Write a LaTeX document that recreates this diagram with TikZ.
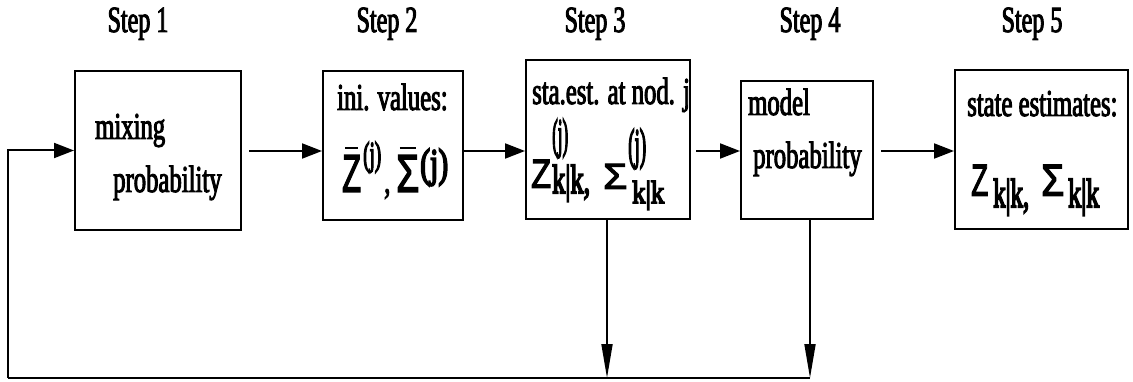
\documentclass[tikz,border=0pt]{standalone}
\usepackage{fontspec}
\usepackage{graphicx}
\setmainfont{Liberation Serif}[FakeStretch=0.65, FakeBold=2.5]
\newfontfamily\zf{Liberation Sans}[FakeBold=3]
\newfontfamily\pf{Liberation Serif}[FakeBold=5]
\usetikzlibrary{arrows.meta}
\newcommand\fitbox[3]{\resizebox*{#1}{#2}{#3}}
\newcommand\fitw[3]{\resizebox{#1}{#2}{#3}}
\newcommand\barred[1]{\leavevmode\vbox{\offinterlineskip\halign{\hfil##\hfil\cr\rule{4.2pt}{0.45pt}\cr\noalign{\kern1.1pt}#1\cr}}}
\tikzset{
  box/.style={draw, line width=2pt, inner sep=0pt},
  txt/.style={anchor=base west, inner sep=0pt, font=\fontsize{38}{40}\selectfont},
  ttl/.style={anchor=base, inner sep=0pt, font=\fontsize{37}{40}\selectfont},
  piece/.style={anchor=south west, inner sep=0pt},
  sub/.style={anchor=base west, inner sep=0pt},
  harr/.style={line width=2pt, -{Triangle[length=20pt,width=15pt]}},
  varr/.style={line width=1.8pt, -{Triangle[length=34pt,width=11pt]}},
  fline/.style={line width=2pt},
}
\begin{document}
\begin{tikzpicture}[x=1pt,y=-1pt]
\fill[white] (0,0) rectangle (1133,382);
\useasboundingbox (0,0) rectangle (1133,382);
% titles
\node[ttl] (t1) at (138,32) {Step 1};
\node[ttl] (t2) at (387,32) {Step 2};
\node[ttl] (t3) at (595,32) {Step 3};
\node[ttl] (t4) at (810,32) {Step 4};
\node[ttl] (t5) at (1032,32) {Step 5};
% boxes
\node[box, minimum width=166pt, minimum height=159pt] (b1) at (158,150.5) {};
\node[box, minimum width=140pt, minimum height=149pt] (b2) at (393,145.5) {};
\node[box, minimum width=164pt, minimum height=159pt] (b3) at (608,139.5) {};
\node[box, minimum width=132pt, minimum height=138pt] (b4) at (807,150) {};
\node[box, minimum width=173pt, minimum height=159pt] (b5) at (1041.5,149.5) {};
% box 1 text
\node[txt] (m1) at (95,139) {mixing};
\node[txt] (m2) at (113,192) {probability};
% box 2 text
\node[txt] (i1) at (337,110) {ini. values:};
\node[piece] (i2) at (342,192) {\fitbox{19pt}{45pt}{\barred{\zf Z}}};
\node[piece] (i3) at (363,173) {\fitbox{18pt}{31pt}{\pf(j)}};
\node[txt] (i4) at (384,193) {,};
\node[piece] (i5) at (396,192) {\fitbox{23pt}{45pt}{\barred{\zf Σ}}};
\node[piece] (i6) at (420,186) {\fitbox{28pt}{37pt}{\pf(j)}};
% box 3 text
\node[txt] (s1) at (532,104) {sta.est. at nod. j};
\node[piece] (s2) at (531,188) {\fitbox{20pt}{28pt}{\zf Z}};
\node[piece] (s3) at (552,158) {\fitbox{16pt}{39pt}{\pf(j)}};
\node[sub] (s4) at (552,193) {\fitw{38pt}{28pt}{\pf k|k,}};
\node[piece] (s5) at (603,189) {\fitbox{24pt}{25pt}{\zf Σ}};
\node[piece] (s6) at (628,169) {\fitbox{18pt}{40pt}{\pf(j)}};
\node[sub] (s7) at (632,203) {\fitw{32pt}{22pt}{\pf k|k}};
% box 4 text
\node[txt] (p1) at (748,115) {model};
\node[txt] (p2) at (753,168) {probability};
% box 5 text
\node[txt] (e1) at (967,116) {state estimates:};
\node[piece] (e2) at (971,196) {\fitbox{17pt}{31pt}{\zf Z}};
\node[sub] (e3) at (993,207) {\fitw{36pt}{28pt}{\pf k|k,}};
\node[piece] (e4) at (1041,196) {\fitbox{23pt}{31pt}{\zf Σ}};
\node[sub] (e5) at (1068,207) {\fitw{31pt}{28pt}{\pf k|k}};
% connectors
\coordinate (h) at (0,151);
\coordinate (lc) at (8,378);
\coordinate (d4) at (810,378);
\coordinate (d3) at (607,378);
\draw[harr, shorten <=7pt] (b1.east |- h) -- (b2.west |- h);
\draw[harr] (b2.east |- h) -- (b3.west |- h);
\draw[harr, shorten <=5pt] (b3.east |- h) -- (b4.west |- h);
\draw[harr, shorten <=7pt] (b4.east |- h) -- (b5.west |- h);
\draw[varr] (b3.south -| d3) -- (d3);
\draw[varr] (b4.south -| d4) -- (d4);
\draw[fline] (d4) -- (lc);
\draw[harr] (lc) |- (b1.west);
\end{tikzpicture}
\end{document}
